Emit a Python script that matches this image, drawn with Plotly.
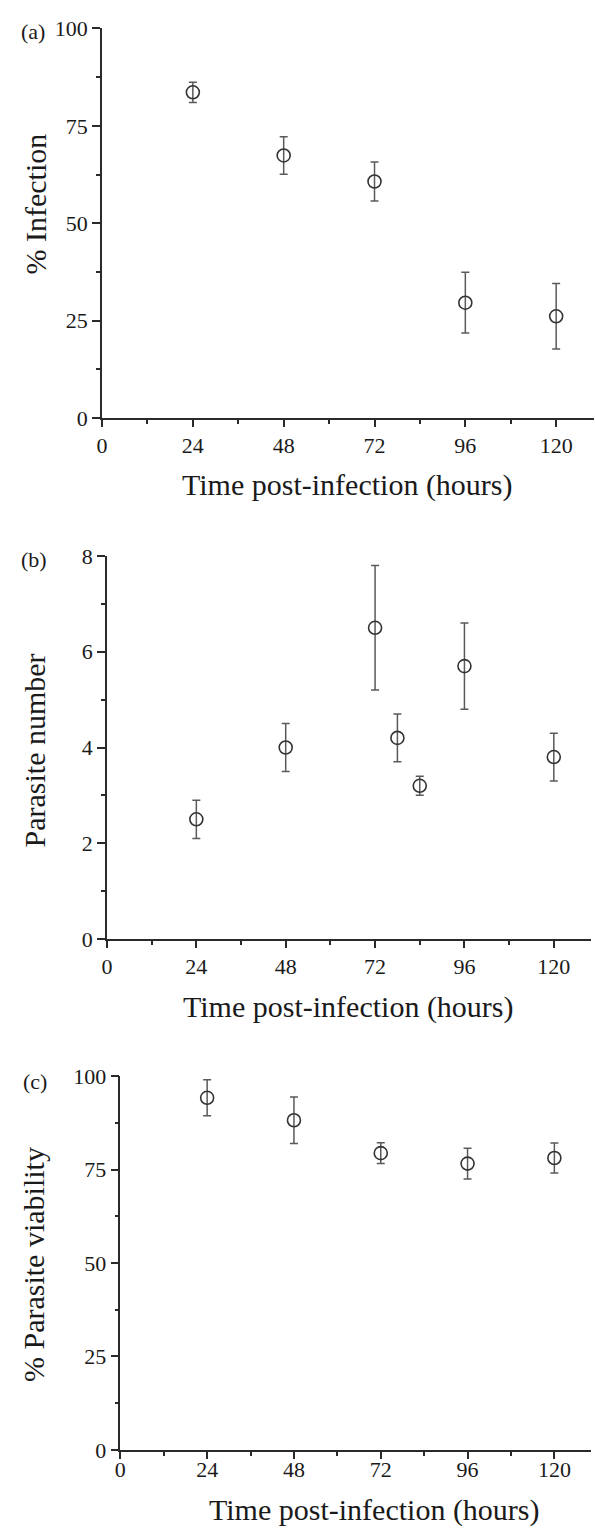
import plotly.graph_objects as go

# ---------------- data ----------------
hours_a = [24, 48, 72, 96, 120]
infection = [83.6, 67.4, 60.7, 29.6, 26.1]
infection_err = [2.6, 4.8, 5.0, 7.8, 8.4]

hours_b = [24, 48, 72, 78, 84, 96, 120]
parasites = [2.5, 4.0, 6.5, 4.2, 3.2, 5.7, 3.8]
parasites_err = [0.4, 0.5, 1.3, 0.5, 0.2, 0.9, 0.5]

hours_c = [24, 48, 72, 96, 120]
viability = [94.2, 88.2, 79.4, 76.6, 78.1]
viability_err = [4.8, 6.2, 2.8, 4.1, 4.0]

x_ticks = [0, 24, 48, 72, 96, 120]
x_minor = [12, 36, 60, 84, 108]
pct_ticks = [0, 25, 50, 75, 100]
pct_minor = [12.5, 37.5, 62.5, 87.5]
num_ticks = [0, 2, 4, 6, 8]
num_minor = [1, 3, 5, 7]

x_title = "Time post-infection (hours)"
y_titles = ["% Infection", "Parasite number", "% Parasite viability"]
panel_labels = ["(a)", "(b)", "(c)"]

# ---------------- style ----------------
W, H = 595, 1538
FONT = "Liberation Serif, Times New Roman, serif"
AX = "#2a2a2a"
TXT = "#1a1a1a"


def px_x(p):
    return p / W


def px_y(p):
    return 1 - p / H


fig = go.Figure()

series = [
    (hours_a, infection, infection_err, "x", "y"),
    (hours_b, parasites, parasites_err, "x2", "y2"),
    (hours_c, viability, viability_err, "x3", "y3"),
]
for xs, ys, es, xa, ya in series:
    fig.add_trace(go.Scatter(
        x=xs, y=ys, mode="markers", xaxis=xa, yaxis=ya,
        marker=dict(symbol="circle-open", size=13, color="#333333",
                    line=dict(width=1.6, color="#333333")),
        error_y=dict(type="data", array=es, visible=True, color="#5a5a5a",
                     thickness=1.5, width=4),
        showlegend=False, cliponaxis=False,
    ))

# pixel geometry of each panel: (left, right, top, bottom)
panels = [
    (97, 594, 16.7, 412.7),
    (102, 591, 553, 942.3),
    (115.5, 590.5, 1081.7, 1461.7),
]
yranges = [[0, 100], [0, 8], [0, 100]]
yticks = [(pct_ticks, pct_minor), (num_ticks, num_minor), (pct_ticks, pct_minor)]
xstand = [0, 0, -8]

layout = dict(
    width=W, height=H, margin=dict(l=0, r=0, t=0, b=0),
    paper_bgcolor="white", plot_bgcolor="white",
    font=dict(family=FONT, color=TXT, size=22),
    showlegend=False,
)

for i, (l, r, t, b) in enumerate(panels):
    sfx = "" if i == 0 else str(i + 1)
    anchor_y = "y" + sfx
    anchor_x = "x" + sfx
    layout["xaxis" + sfx] = dict(
        domain=[px_x(l), px_x(r)], anchor=anchor_y, range=[0, 130],
        tickmode="array", tickvals=x_ticks, ticks="outside", ticklen=7,
        tickwidth=1.5, tickcolor=AX, showline=True, linecolor=AX, linewidth=1.6,
        showgrid=False, zeroline=False,
        tickfont=dict(family=FONT, size=22, color=TXT),
        ticklabelstandoff=xstand[i],
        minor=dict(tickmode="array", tickvals=x_minor, ticks="outside",
                   ticklen=4, tickwidth=1.5, tickcolor=AX, showgrid=False),
    )
    tv, mv = yticks[i]
    layout["yaxis" + sfx] = dict(
        domain=[px_y(b), px_y(t)], anchor=anchor_x, range=yranges[i],
        tickmode="array", tickvals=tv, ticks="outside", ticklen=8,
        tickwidth=1.5, tickcolor=AX, showline=True, linecolor=AX, linewidth=1.6,
        showgrid=False, zeroline=False,
        tickfont=dict(family=FONT, size=22, color=TXT),
        minor=dict(tickmode="array", tickvals=mv, ticks="outside",
                   ticklen=4, tickwidth=1.5, tickcolor=AX, showgrid=False),
    )

fig.update_layout(**layout)

# axis titles and panel labels as annotations
xtitle_pos = [(345, 481), (346, 1011), (372, 1523)]
ytitle_pos = [(30, 195), (29, 751), (28, 1273)]
label_pos = [(27, 20), (28, 557), (29, 1087)]

for i in range(3):
    cx, cy = xtitle_pos[i]
    fig.add_annotation(text=x_title, x=px_x(cx), y=px_y(cy), xref="paper", yref="paper",
                       showarrow=False, xanchor="center", yanchor="middle",
                       font=dict(family=FONT, size=30, color=TXT))
    cx, cy = ytitle_pos[i]
    fig.add_annotation(text=y_titles[i], x=px_x(cx), y=px_y(cy), xref="paper", yref="paper",
                       showarrow=False, xanchor="center", yanchor="middle", textangle=-90,
                       font=dict(family=FONT, size=30, color=TXT))
    cx, cy = label_pos[i]
    fig.add_annotation(text=panel_labels[i], x=px_x(cx), y=px_y(cy), xref="paper", yref="paper",
                       showarrow=False, xanchor="center", yanchor="middle",
                       font=dict(family=FONT, size=22, color=TXT))

fig.write_html("out.html")
